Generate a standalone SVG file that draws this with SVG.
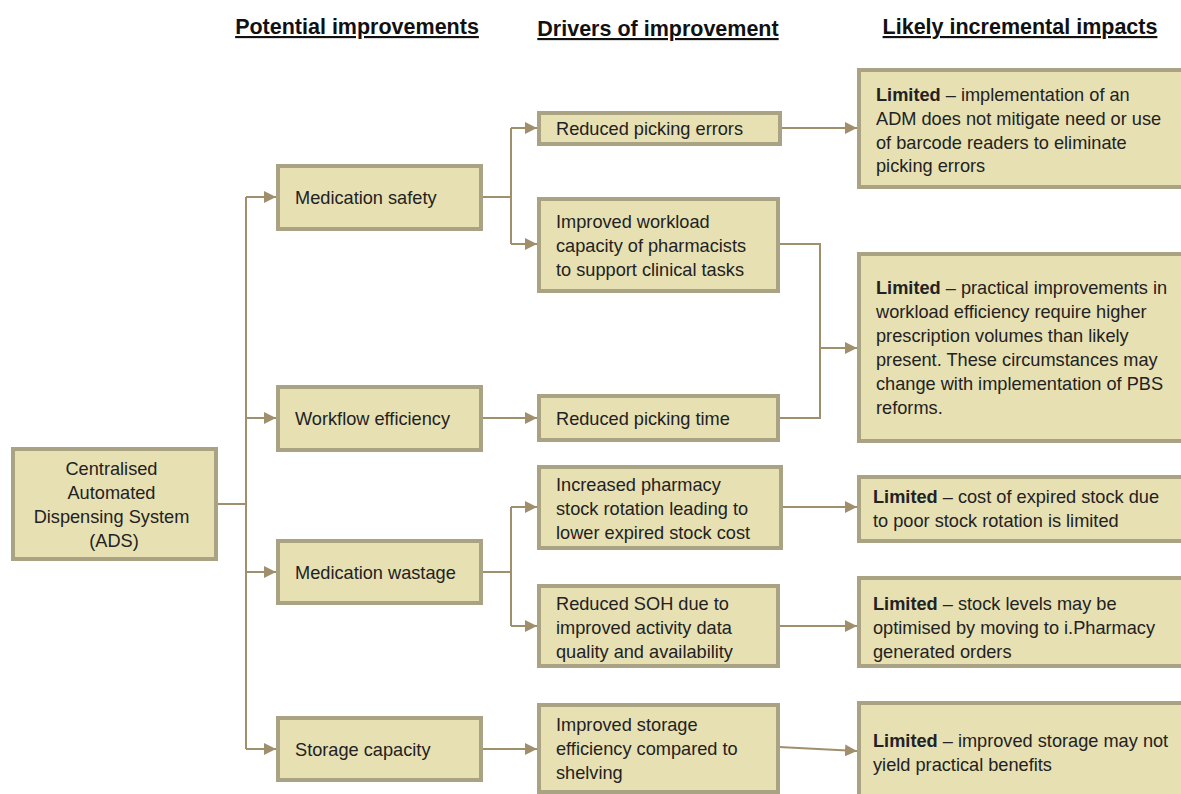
<svg xmlns="http://www.w3.org/2000/svg" width="1181" height="794" viewBox="0 0 1181 794">
  <style>
    .box { fill: #e7e0b3; stroke: #a9a283; stroke-width: 4; }
    .t { font-family: "Liberation Sans", Arial, sans-serif; font-size: 18.2px; fill: #222; }
    .b { font-weight: bold; }
    .hdr { font-family: "Liberation Sans", Arial, sans-serif; font-size: 21.5px; font-weight: bold; fill: #111; text-anchor: middle; text-decoration: underline; }
    .ln { fill: none; stroke: #a08f6c; stroke-width: 2; }
  </style>
  <defs>
    <marker id="arr" viewBox="0 0 12 12" refX="12" refY="6" markerWidth="12" markerHeight="12" markerUnits="userSpaceOnUse" orient="auto">
      <path d="M0,0 L12,6 L0,12 Z" fill="#a08f6c"/>
    </marker>
  </defs>

  <rect width="1181" height="794" fill="#ffffff"/>

  <!-- column headings -->
  <g id="headers">
    <text class="hdr" x="357" y="34">Potential improvements</text>
    <text class="hdr" x="658" y="36">Drivers of improvement</text>
    <text class="hdr" x="1020" y="34">Likely incremental impacts</text>
  </g>

  <!-- connectors -->
  <g id="connectors">
    <path class="ln" d="M216,504 H246"/>
    <path class="ln" d="M246,197 V749"/>
    <path class="ln" d="M246,197 H276" marker-end="url(#arr)"/>
    <path class="ln" d="M246,418 H276" marker-end="url(#arr)"/>
    <path class="ln" d="M246,572 H276" marker-end="url(#arr)"/>
    <path class="ln" d="M246,749 H276" marker-end="url(#arr)"/>

    <path class="ln" d="M481,197 H511 M511,128 V244"/>
    <path class="ln" d="M511,128 H537" marker-end="url(#arr)"/>
    <path class="ln" d="M511,244 H537" marker-end="url(#arr)"/>
    <path class="ln" d="M481,418 H537" marker-end="url(#arr)"/>
    <path class="ln" d="M481,572 H511 M511,507 V626"/>
    <path class="ln" d="M511,507 H537" marker-end="url(#arr)"/>
    <path class="ln" d="M511,626 H537" marker-end="url(#arr)"/>
    <path class="ln" d="M481,749 H537" marker-end="url(#arr)"/>

    <path class="ln" d="M781,128 H857" marker-end="url(#arr)"/>
    <path class="ln" d="M779,244 H820 V418 H779"/>
    <path class="ln" d="M820,348 H857" marker-end="url(#arr)"/>
    <path class="ln" d="M782,507 H857" marker-end="url(#arr)"/>
    <path class="ln" d="M779,626 H857" marker-end="url(#arr)"/>
    <path class="ln" d="M779,747 L857,751" marker-end="url(#arr)"/>
  </g>

  <!-- root -->
  <g id="ads">
    <rect class="box" x="13" y="449" width="203" height="110"/>
    <text class="t" text-anchor="middle">
      <tspan x="114" y="475">Centralised</tspan>
      <tspan x="114" y="499">Automated</tspan>
      <tspan x="114" y="523">Dispensing System</tspan>
      <tspan x="114" y="547">(ADS)</tspan>
    </text>
  </g>

  <!-- potential improvements -->
  <g id="medication-safety">
    <rect class="box" x="278" y="166" width="203" height="63"/>
    <text class="t" x="295" y="204">Medication safety</text>
  </g>
  <g id="workflow-efficiency">
    <rect class="box" x="278" y="387" width="203" height="63"/>
    <text class="t" x="295" y="425">Workflow efficiency</text>
  </g>
  <g id="medication-wastage">
    <rect class="box" x="278" y="541" width="203" height="62"/>
    <text class="t" x="295" y="579">Medication wastage</text>
  </g>
  <g id="storage-capacity">
    <rect class="box" x="278" y="718" width="203" height="62"/>
    <text class="t" x="295" y="756">Storage capacity</text>
  </g>

  <!-- drivers -->
  <g id="reduced-picking-errors">
    <rect class="box" x="539" y="113" width="241" height="31"/>
    <text class="t" x="556" y="135">Reduced picking errors</text>
  </g>
  <g id="improved-workload">
    <rect class="box" x="539" y="199" width="239" height="92"/>
    <text class="t">
      <tspan x="556" y="228">Improved workload</tspan>
      <tspan x="556" y="252">capacity of pharmacists</tspan>
      <tspan x="556" y="276">to support clinical tasks</tspan>
    </text>
  </g>
  <g id="reduced-picking-time">
    <rect class="box" x="539" y="396" width="239" height="44"/>
    <text class="t" x="556" y="425">Reduced picking time</text>
  </g>
  <g id="stock-rotation">
    <rect class="box" x="539" y="467" width="242" height="81"/>
    <text class="t">
      <tspan x="556" y="491">Increased pharmacy</tspan>
      <tspan x="556" y="515">stock rotation leading to</tspan>
      <tspan x="556" y="539">lower expired stock cost</tspan>
    </text>
  </g>
  <g id="reduced-soh">
    <rect class="box" x="539" y="586" width="239" height="80"/>
    <text class="t">
      <tspan x="556" y="610">Reduced SOH due to</tspan>
      <tspan x="556" y="634">improved activity data</tspan>
      <tspan x="556" y="658">quality and availability</tspan>
    </text>
  </g>
  <g id="storage-efficiency">
    <rect class="box" x="539" y="705" width="239" height="87"/>
    <text class="t">
      <tspan x="556" y="731">Improved storage</tspan>
      <tspan x="556" y="755">efficiency compared to</tspan>
      <tspan x="556" y="779">shelving</tspan>
    </text>
  </g>

  <!-- impacts -->
  <g id="impact-picking-errors">
    <rect class="box" x="859" y="70" width="326" height="117"/>
    <text class="t">
      <tspan x="876" y="101"><tspan class="b">Limited</tspan> – implementation  of an</tspan>
      <tspan x="876" y="125">ADM does not mitigate need or use</tspan>
      <tspan x="876" y="149">of barcode readers to eliminate</tspan>
      <tspan x="876" y="172">picking errors</tspan>
    </text>
  </g>
  <g id="impact-workload">
    <rect class="box" x="859" y="254" width="326" height="187"/>
    <text class="t">
      <tspan x="876" y="294"><tspan class="b">Limited</tspan> – practical improvements in</tspan>
      <tspan x="876" y="318">workload efficiency require higher</tspan>
      <tspan x="876" y="342">prescription volumes than likely</tspan>
      <tspan x="876" y="366">present. These circumstances may</tspan>
      <tspan x="876" y="390">change with implementation  of PBS</tspan>
      <tspan x="876" y="414">reforms.</tspan>
    </text>
  </g>
  <g id="impact-expired-stock">
    <rect class="box" x="859" y="477" width="326" height="64"/>
    <text class="t">
      <tspan x="873" y="503"><tspan class="b">Limited</tspan> – cost of expired stock due</tspan>
      <tspan x="873" y="527">to poor stock rotation is limited</tspan>
    </text>
  </g>
  <g id="impact-stock-levels">
    <rect class="box" x="859" y="578" width="326" height="88"/>
    <text class="t">
      <tspan x="873" y="610"><tspan class="b">Limited</tspan> – stock levels may be</tspan>
      <tspan x="873" y="634">optimised by moving to i.Pharmacy</tspan>
      <tspan x="873" y="658">generated orders</tspan>
    </text>
  </g>
  <g id="impact-storage">
    <rect class="box" x="859" y="703" width="326" height="95"/>
    <text class="t">
      <tspan x="873" y="747"><tspan class="b">Limited</tspan> – improved storage may not</tspan>
      <tspan x="873" y="771">yield practical benefits</tspan>
    </text>
  </g>
</svg>
